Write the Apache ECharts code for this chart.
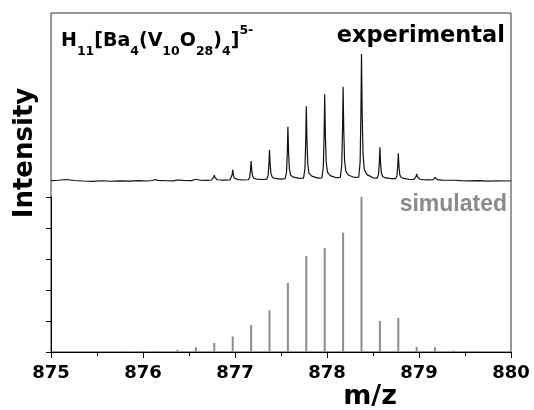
<!DOCTYPE html>
<html>
<head>
<meta charset="utf-8">
<script src="https://cdn.jsdelivr.net/npm/echarts@6/dist/echarts.min.js"></script>
<style>
  html, body { margin: 0; padding: 0; background: #fff; }
  #main { width: 534px; height: 410px; }
</style>
</head>
<body>
<div id="main"></div>
<script>
    // experimental spectrum (m/z, relative intensity)
    var expMz = [
        875.00, 875.08, 875.17, 875.25, 875.35, 875.45, 875.55, 875.65, 875.75, 875.85,
        875.95, 876.05, 876.10, 876.135, 876.16, 876.25, 876.33, 876.365, 876.375, 876.39,
        876.45, 876.53, 876.56, 876.575, 876.59, 876.62, 876.70,
        876.745, 876.76, 876.769, 876.775, 876.782, 876.791, 876.805, 876.87,
        876.945, 876.96, 876.969, 876.975, 876.982, 876.991, 877.005, 877.035, 877.10,
        877.145, 877.16, 877.169, 877.175, 877.182, 877.191, 877.205, 877.235, 877.30,
        877.345, 877.36, 877.369, 877.375, 877.382, 877.391, 877.405, 877.435, 877.50,
        877.545, 877.56, 877.569, 877.575, 877.582, 877.591, 877.605, 877.635, 877.70,
        877.745, 877.76, 877.769, 877.775, 877.782, 877.791, 877.805, 877.835, 877.90,
        877.945, 877.96, 877.969, 877.975, 877.982, 877.991, 878.005, 878.035, 878.10,
        878.145, 878.16, 878.169, 878.175, 878.182, 878.191, 878.205, 878.235, 878.30,
        878.345, 878.36, 878.369, 878.375, 878.382, 878.391, 878.405, 878.435, 878.50,
        878.545, 878.56, 878.569, 878.575, 878.582, 878.591, 878.605, 878.635, 878.70,
        878.745, 878.76, 878.769, 878.775, 878.782, 878.791, 878.805, 878.835, 878.90,
        878.945, 878.96, 878.969, 878.975, 878.982, 878.991, 879.01, 879.05, 879.10,
        879.155, 879.168, 879.175, 879.185, 879.20, 879.25, 879.36, 879.375, 879.39,
        879.45, 879.55, 879.65, 879.75, 879.85, 879.95, 880.00
    ];
    var expInt = [
        0.3, 0.6, 1.2, 0.4, 0.0, -0.3, 0.2, -0.2, 0.1, -0.1,
        0.3, 0.0, 0.4, 1.2, 0.5, 0.2, 0.1, 0.8, 1.5, 0.7,
        0.4, 0.3, 1.2, 2.4, 1.2, 0.6, 0.5,
        0.8, 1.5, 3.0, 4.6, 2.8, 1.6, 1.0, 0.7,
        0.8, 2.0, 5.0, 8.8, 5.0, 2.4, 1.4, 1.1, 0.8,
        1.0, 3.0, 8.8, 15.8, 8.8, 4.0, 2.2, 1.5, 1.2,
        1.4, 4.2, 13.5, 24.5, 13.5, 5.8, 3.0, 2.0, 1.5,
        1.8, 7.0, 23.5, 42.8, 23.5, 9.5, 4.5, 3.0, 2.0,
        2.2, 9.5, 32.0, 58.8, 32.0, 13.0, 6.0, 3.8, 2.3,
        2.5, 11.0, 37.5, 68.3, 37.5, 15.0, 7.0, 4.2, 2.6,
        2.8, 12.0, 41.0, 74.2, 41.0, 16.0, 7.5, 4.5, 2.8,
        3.0, 15.0, 55.0, 100.0, 55.0, 22.0, 9.0, 5.0, 2.5,
        2.2, 5.0, 14.5, 26.5, 14.5, 6.5, 3.5, 2.4, 1.8,
        1.8, 4.0, 12.0, 21.8, 12.0, 5.0, 3.0, 2.0, 1.2,
        1.2, 2.0, 3.6, 5.6, 3.4, 2.0, 1.4, 1.0, 0.9,
        1.1, 2.0, 2.8, 1.8, 1.1, 0.7, 0.6, 1.4, 0.6,
        0.3, 0.1, 0.3, -0.1, 0.2, 0.0, 0.2
    ];

    // simulated isotope pattern
    var simMz = [
        875.775, 875.975, 876.175, 876.375, 876.575, 876.775, 876.975, 877.175, 877.375, 877.575,
        877.775, 877.975, 878.175, 878.375, 878.575, 878.775, 878.975, 879.175, 879.375, 879.575
    ];
    var simInt = [
        0.2, 0.3, 0.6, 1.5, 3.2, 5.8, 10, 17.4, 27, 44.5,
        62, 67, 77, 100, 20, 22, 3.2, 3.2, 0.9, 0.6
    ];

    var xTicks = [875, 876, 877, 878, 879, 880];

    var expData = expMz.map(function(m, i) { return [m, expInt[i]]; });
    var simData = simMz.map(function(m, i) { return [m, simInt[i]]; });

    var FONT = 'DejaVu Sans';

    var myChart = echarts.init(document.getElementById('main'));
    var option = {
        backgroundColor: '#fff',
        animation: false,

        title: [{
            left: 61,
            top: 24,
            padding: 0,
            text: '{m|H}{s|11}{m|[Ba}{s|4}{m|(V}{s|10}{m|O}{s|28}{m|)}{s|4}{m|]}{u|5-}',
            textStyle: {
                rich: {
                    m: { fontFamily: FONT, fontWeight: 'bold', fontSize: 19, color: '#000', lineHeight: 34, verticalAlign: 'middle' },
                    s: { fontFamily: FONT, fontWeight: 'bold', fontSize: 12.5, color: '#000', lineHeight: 14, verticalAlign: 'bottom' },
                    u: { fontFamily: FONT, fontWeight: 'bold', fontSize: 12.5, color: '#000', lineHeight: 14, verticalAlign: 'top' }
                }
            }
        }],

        graphic: [{
            type: 'text', x: 505, y: 36.5,
            style: { text: 'experimental', font: 'bold 22.5px "DejaVu Sans"', fill: '#000', align: 'right', verticalAlign: 'middle' }
        }, {
            type: 'text', x: 507, y: 204.6,
            style: { text: 'simulated', font: 'bold 23px "Liberation Sans"', fill: '#8a8a8a', align: 'right', verticalAlign: 'middle' }
        }, {
            type: 'text', x: 25.5, y: 153, rotation: Math.PI / 2,
            style: { text: 'Intensity', font: 'bold 26px "DejaVu Sans"', fill: '#000', align: 'center', verticalAlign: 'middle' }
        }, {
            type: 'text', x: 370, y: 397,
            style: { text: 'm/z', font: 'bold 27px "DejaVu Sans"', fill: '#000', align: 'center', verticalAlign: 'middle' }
        }],

        grid: [
            { left: 51, width: 460, top: 13, height: 184 },
            { left: 51, width: 460, top: 197, height: 155 },
            { left: 51, width: 460, top: 13, height: 339, show: true, borderColor: '#333', borderWidth: 1, backgroundColor: 'transparent' }
        ],

        xAxis: [{
            gridIndex: 0, type: 'value', min: xTicks[0], max: xTicks[xTicks.length - 1], show: false
        }, {
            gridIndex: 1, type: 'value', min: xTicks[0], max: xTicks[xTicks.length - 1], interval: 1,
            axisLine: { show: true, lineStyle: { color: '#000', width: 1 } },
            axisTick: { show: true, inside: false, length: 6, lineStyle: { color: '#000' } },
            minorTick: { show: true, splitNumber: 2, length: 4, lineStyle: { color: '#000' } },
            axisLabel: { margin: 12, color: '#000', fontFamily: FONT, fontWeight: 'bold', fontSize: 18 },
            splitLine: { show: false },
            minorSplitLine: { show: false }
        }, {
            gridIndex: 2, type: 'value', min: 0, max: 1, show: false
        }],

        yAxis: [{
            gridIndex: 0, type: 'value', min: -12.6, max: 132.3, show: false
        }, {
            gridIndex: 1, type: 'value', min: 0, max: 100, interval: 20,
            axisLine: { show: true, lineStyle: { color: '#000', width: 1 } },
            axisTick: { show: true, inside: false, length: 5, lineStyle: { color: '#000' } },
            axisLabel: { show: false },
            splitLine: { show: false }
        }, {
            gridIndex: 2, type: 'value', min: 0, max: 1, show: false
        }],

        series: [{
            name: 'experimental',
            type: 'line',
            xAxisIndex: 0,
            yAxisIndex: 0,
            data: expData,
            showSymbol: false,
            symbol: 'none',
            lineStyle: { color: '#111', width: 1.2 },
            clip: true
        }, {
            name: 'simulated',
            type: 'bar',
            xAxisIndex: 1,
            yAxisIndex: 1,
            data: simData,
            barWidth: 2,
            itemStyle: { color: '#8c8c8c' }
        }]
    };
    myChart.setOption(option);
</script>
</body>
</html>
